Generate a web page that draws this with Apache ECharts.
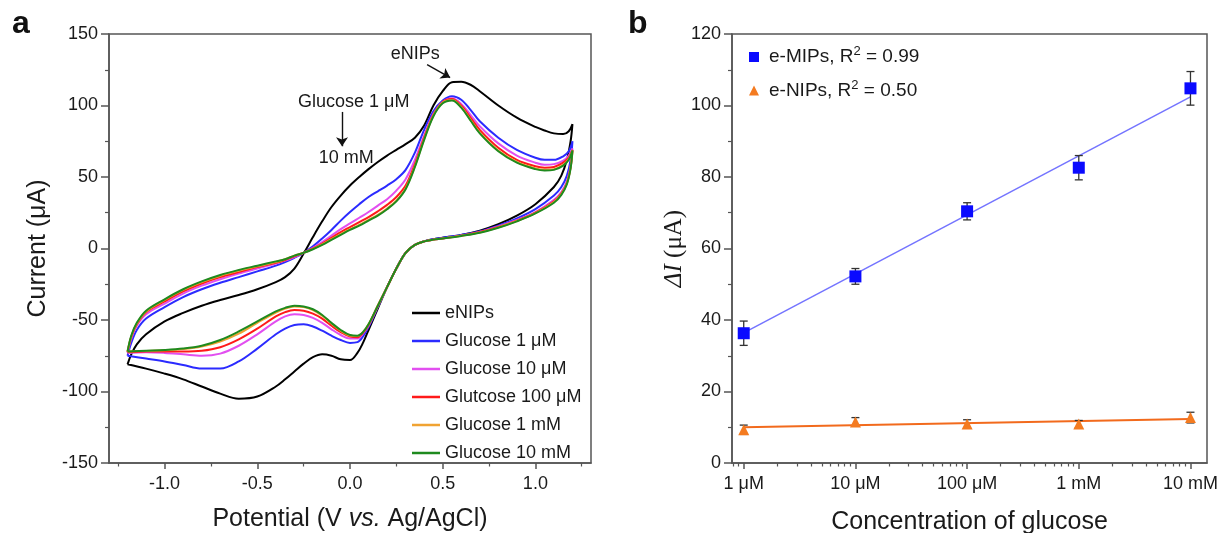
<!DOCTYPE html>
<html>
<head>
<meta charset="utf-8">
<script src="https://cdn.jsdelivr.net/npm/echarts@6/dist/echarts.min.js"></script>
<style>
html,body{margin:0;padding:0;background:#fff;}
#chart{width:1224px;height:533px;}
</style>
</head>
<body>
<div id="chart"></div>
<script>
// ---------- Panel a: cyclic voltammograms ----------
const potFwd = [-1.2,-1.18,-1.15,-1.1,-1.0,-0.9,-0.8,-0.7,-0.6,-0.5,-0.4,-0.35,-0.3,-0.25,-0.2,-0.15,-0.1,-0.05,0.0,0.05,0.1,0.15,0.2,0.25,0.3,0.35,0.4,0.45,0.5,0.55,0.6,0.65,0.7,0.8,0.9,1.0,1.05,1.1,1.15,1.18,1.2];
const potRev = [1.2,1.19,1.17,1.14,1.1,1.0,0.9,0.8,0.7,0.6,0.5,0.45,0.4,0.35,0.3,0.25,0.2,0.15,0.1,0.07,0.04,0.0,-0.05,-0.1,-0.15,-0.2,-0.25,-0.3,-0.35,-0.4,-0.5,-0.6,-0.7,-0.8,-0.9,-1.0,-1.1,-1.2];

const eNIPsFwd = [-81,-74,-67,-60,-51,-45,-40,-36,-32.5,-28.5,-23.5,-20,-14,-3.5,8,19,29,37,44,50,55.5,60.5,65,69,73,77.5,86,100,110,116.3,116.6,114.5,110,100,91.5,85,82.5,80.5,80,82,87];
const eNIPsRev = [87,75,62,51,43,31,23,17,12.5,9.5,7.5,6.5,5,2.5,-3,-14,-27,-42,-57,-66,-73,-78,-77.5,-75,-74,-76,-80.5,-86,-91.5,-96.5,-103.5,-105,-101.5,-96.5,-91.5,-87.5,-84,-81];

const g1uMFwd = [-75,-66,-57,-49,-41,-34,-28.5,-24,-20,-16,-12,-9.5,-6.5,-3,1.5,7,13,19.5,25.5,31,36,40,44,48.5,55,67,83,96,103.5,106.5,104,97,89,77.5,69,63.5,62,62,64.5,68,75];
const g1uMRev = [75,62,51,43,37,27.5,21,16,12,9.5,7.5,6.5,5,2.5,-3,-14,-27,-41,-55,-61.5,-65.5,-66,-64,-61,-57.5,-54.5,-53,-53.5,-56,-60,-70,-79,-84,-84,-81.5,-79,-77,-75];

const g10uMFwd = [-73,-63,-54,-46,-38.5,-31.5,-26,-21.5,-17.5,-14,-10.5,-8.5,-6,-3,0.5,4.5,9,13.5,17.5,21.5,25.5,30,34.5,40.5,48.5,62,79,94,102.5,105,101,93.5,85.5,73.5,65,60,58.5,59,61.5,65,70];
const g10uMRev = [70,58,47,39.5,34,25.5,20,15.5,11.5,9,7,6.2,5,2.5,-3,-14,-27,-40.5,-54,-59.5,-63,-63,-60.5,-56.5,-52,-48.5,-46.5,-46,-47.5,-51,-60,-68,-73.5,-75,-74,-73,-72.5,-73];

const g100uMFwd = [-72.5,-62,-53,-44.5,-37,-30,-24.5,-20,-16.5,-13,-10,-8,-5.5,-3,0,3.5,7.5,11.5,15,18.5,22,26,30.5,36,44,59,77.5,93.5,102.5,104.5,100,91.5,83,70.5,62,57.5,56.5,57,60,63.5,69];
const g100uMRev = [69,57,46,38.5,33,25,19.5,15,11.5,9,7,6.2,5,2.5,-3,-14,-27,-40,-53.5,-59,-62,-61.5,-58.5,-54,-49,-45.5,-43.5,-43,-44.5,-47.5,-56,-63.5,-69,-71.5,-72,-72,-72,-72.5];

const g1mMFwd = [-72,-61.5,-52.5,-44,-36,-29,-23.5,-19,-15.5,-12.5,-9.5,-7.5,-5,-3,-0.3,2.8,6.5,10,13.5,16.5,20,23.5,28,33.5,42,57.5,76.5,93,102,103.8,99,90,81,68.5,60.5,56,55,55.5,58.5,62.5,68.5];
const g1mMRev = [68.5,56.5,45.5,38,32.5,24.8,19.2,14.8,11.2,8.9,7,6.2,5,2.5,-3,-14,-27,-40,-53,-58.5,-61.2,-60.8,-57.5,-52.5,-47,-43,-41,-40.5,-42,-44.8,-52,-59.5,-65,-68.5,-70.3,-71.2,-71.6,-72];

const g10mMFwd = [-72,-61,-52,-43.5,-35.5,-28.5,-23,-18.5,-15,-12,-9,-7.5,-5,-3,-0.5,2.5,6,9.5,13,16,19.5,23,27.5,33,41.5,57,76,92.5,101.5,103.5,98.5,89.5,80.5,68,60,55.5,54.5,55,58,62,68.5];
const g10mMRev = [68.5,56,45,37.5,32,24.5,19,14.5,11,8.8,7,6.2,5,2.5,-3,-14,-27,-40,-53,-58.5,-61,-60.5,-57,-52,-46.5,-42.5,-40.5,-40,-41.5,-44,-51,-58,-64,-68,-70,-71,-71.5,-72];

const cvNames = ['eNIPs','Glucose 1 μM','Glucose 10 μM','Glutcose 100 μM','Glucose 1 mM','Glucose 10 mM'];
const cvColors = ['#000000','#2b2bff','#e24ff0','#ff1a1a','#f0a332','#1e8a1e'];
const cvFwd = [eNIPsFwd,g1uMFwd,g10uMFwd,g100uMFwd,g1mMFwd,g10mMFwd];
const cvRev = [eNIPsRev,g1uMRev,g10uMRev,g100uMRev,g1mMRev,g10mMRev];

const potTicks = [-1.0,-0.5,0.0,0.5,1.0];
const potMinorTicks = [-1.25,-0.75,-0.25,0.25,0.75,1.25];

// ---------- Panel b: calibration ----------
const concExp = [0,1,2,3,4];           // log10 of concentration in μM
const concLabels = ['1 μM','10 μM','100 μM','1 mM','10 mM'];
const mipValues = [36.3,52.2,70.4,82.6,104.8];
const mipErr = [3.4,2.2,2.4,3.4,4.7];
const nipValues = [9.3,11.5,10.9,10.9,12.7];
const nipErr = [1.3,1.2,1.2,1.0,1.5];
const mipFitEnds = [36.4,102.4];
const nipFitEnds = [10.0,12.3];

const FONT = 'Liberation Sans, Arial, sans-serif';
const SERIF = 'Liberation Serif, Times New Roman, serif';
const AX = '#555';
const TXT = '#1a1a1a';

function buildCurve(i){
  const d = [];
  potFwd.forEach((v,k)=>d.push([v,cvFwd[i][k]]));
  potRev.forEach((v,k)=>d.push([v,cvRev[i][k]]));
  return d;
}

const minorConc = [];
for (let n=-1;n<=3;n++){ for (let k=2;k<=9;k++){ const e = n+Math.log10(k); if (e>-0.105 && e<4.148) minorConc.push(e);} }

function errSeries(vals, errs){
  return concExp.map((x,i)=>[x, vals[i]-errs[i], vals[i]+errs[i]]);
}
function renderErr(params, api){
  const x = api.value(0);
  const p1 = api.coord([x, api.value(1)]);
  const p2 = api.coord([x, api.value(2)]);
  const w = 4;
  const st = {stroke:'#333', lineWidth:1.3};
  return {type:'group', children:[
    {type:'line', shape:{x1:p1[0],y1:p1[1],x2:p2[0],y2:p2[1]}, style:st},
    {type:'line', shape:{x1:p1[0]-w,y1:p1[1],x2:p1[0]+w,y2:p1[1]}, style:st},
    {type:'line', shape:{x1:p2[0]-w,y1:p2[1],x2:p2[0]+w,y2:p2[1]}, style:st}
  ]};
}

const axisLineStyle = {show:true, onZero:false, lineStyle:{color:AX, width:1.5}};
const labelStyle = {color:TXT, fontSize:18, fontFamily:FONT};

const series = [];
cvNames.forEach((nm,i)=>{
  series.push({
    name:nm, type:'line', xAxisIndex:0, yAxisIndex:0,
    data:buildCurve(i), showSymbol:false, symbol:'none', smooth:0.35,
    lineStyle:{color:cvColors[i], width:2}, itemStyle:{color:cvColors[i]},
    z: 2+i
  });
});
// annotations on panel a
series[0].markLine = {
  silent:true, symbol:['none','arrow'], symbolSize:9, animation:false,
  label:{show:false},
  lineStyle:{color:'#111', width:1.4, type:'solid'},
  data:[
    [{coord:[0.416,128.6]},{coord:[0.54,119.5]}],
    [{coord:[-0.043,95.5]},{coord:[-0.043,71.5]}]
  ]
};
series[0].markPoint = {
  silent:true, symbol:'circle', symbolSize:0, animation:false,
  label:{show:true, position:'inside', color:TXT, fontSize:18, fontFamily:FONT},
  data:[
    {coord:[0.352,135.7], value:'eNIPs', label:{formatter:'eNIPs'}},
    {coord:[0.02,102.4], value:'g', label:{formatter:'Glucose 1 μM'}},
    {coord:[-0.02,63.2], value:'m', label:{formatter:'10 mM'}}
  ]
};

// panel b
series.push({name:'MIP fit', type:'line', xAxisIndex:2, yAxisIndex:1, symbol:'none',
  data:[[concExp[0],mipFitEnds[0]],[concExp[concExp.length-1],mipFitEnds[1]]],
  lineStyle:{color:'#7474ff', width:1.5}, z:2});
series.push({name:'NIP fit', type:'line', xAxisIndex:2, yAxisIndex:1, symbol:'none',
  data:[[concExp[0],nipFitEnds[0]],[concExp[concExp.length-1],nipFitEnds[1]]],
  lineStyle:{color:'#f26a1c', width:2}, z:2});
series.push({name:'MIP err', type:'custom', xAxisIndex:2, yAxisIndex:1, renderItem:renderErr,
  encode:{x:0,y:[1,2]}, data:errSeries(mipValues,mipErr), z:3});
series.push({name:'NIP err', type:'custom', xAxisIndex:2, yAxisIndex:1, renderItem:renderErr,
  encode:{x:0,y:[1,2]}, data:errSeries(nipValues,nipErr), z:3});
series.push({name:'e-MIPs', type:'scatter', xAxisIndex:2, yAxisIndex:1, symbol:'rect', symbolSize:12,
  data:concExp.map((x,i)=>[x,mipValues[i]]), itemStyle:{color:'#0a0aff', opacity:1}, z:4});
series.push({name:'e-NIPs', type:'scatter', xAxisIndex:2, yAxisIndex:1, symbol:'triangle', symbolSize:11,
  data:concExp.map((x,i)=>[x,nipValues[i]]), itemStyle:{color:'#f47b20', opacity:1}, z:4});

const option = {
  animation:false,
  backgroundColor:'#ffffff',
  textStyle:{fontFamily:FONT},
  graphic:[
    {type:'text', left:12, top:8, style:{text:'a', font:'bold 32px Liberation Sans, Arial, sans-serif', fill:'#111'}},
    {type:'text', left:628, top:8, style:{text:'b', font:'bold 32px Liberation Sans, Arial, sans-serif', fill:'#111'}}
  ],
  grid:[
    {left:109, right:633, top:34, bottom:70, show:true, borderColor:AX, borderWidth:1.5, containLabel:false, outerBoundsMode:'none'},
    {left:732, right:17, top:34, bottom:70, show:true, borderColor:AX, borderWidth:1.5, containLabel:false, outerBoundsMode:'none'}
  ],
  legend:[
    {
      data:cvNames, orient:'vertical', left:407, top:298, icon:'rect', itemWidth:28, itemHeight:2.5,
      itemGap:8, textStyle:{color:TXT, fontSize:18, lineHeight:20, fontFamily:FONT}, selectedMode:false
    },
    {
      data:[{name:'e-MIPs', icon:'rect'},{name:'e-NIPs', icon:'triangle'}],
      orient:'vertical', left:744, top:40, itemWidth:10, itemHeight:10, itemGap:12, selectedMode:false,
      formatter:function(n){ return n==='e-MIPs' ? '{t|e-MIPs, R}{s|2}{t| = 0.99}' : '{t|e-NIPs, R}{s|2}{t| = 0.50}'; },
      textStyle:{color:TXT, fontFamily:FONT, rich:{
        t:{fontSize:19, fontFamily:FONT, color:TXT, lineHeight:24},
        s:{fontSize:13, fontFamily:FONT, color:TXT, verticalAlign:'top', lineHeight:16}
      }, padding:[0,0,0,5]}
    }
  ],
  xAxis:[
    {gridIndex:0, type:'value', min:-1.3, max:1.3, position:'bottom',
      axisLine:axisLineStyle,
      axisTick:{show:true, inside:false, length:6, lineStyle:{color:AX, width:1.5}, customValues:potTicks},
      axisLabel:Object.assign({customValues:potTicks, margin:12, formatter:v=>Number(v).toFixed(1)}, labelStyle),
      splitLine:{show:false},
      name:'Potential (V {it|vs.} Ag/AgCl)', nameLocation:'middle', nameGap:44,
      nameTextStyle:{fontSize:25, color:TXT, fontFamily:FONT,
        rich:{it:{fontSize:25, fontStyle:'italic', fontFamily:FONT, color:TXT}}}
    },
    {gridIndex:0, type:'value', min:-1.3, max:1.3, position:'bottom',
      axisLine:{show:false, onZero:false},
      axisTick:{show:true, length:3.5, lineStyle:{color:AX, width:1.2}, customValues:potMinorTicks},
      axisLabel:{show:false}, splitLine:{show:false}
    },
    {gridIndex:1, type:'value', min:-0.105, max:4.148, position:'bottom',
      axisLine:axisLineStyle,
      axisTick:{show:true, length:6, lineStyle:{color:AX, width:1.5}, customValues:concExp},
      axisLabel:Object.assign({customValues:concExp, margin:12, formatter:v=>concLabels[Math.round(v)]}, labelStyle),
      splitLine:{show:false},
      name:'Concentration of glucose', nameLocation:'middle', nameGap:47,
      nameTextStyle:{fontSize:25, color:TXT, fontFamily:FONT}
    },
    {gridIndex:1, type:'value', min:-0.105, max:4.148, position:'bottom',
      axisLine:{show:false, onZero:false},
      axisTick:{show:true, length:3.5, lineStyle:{color:AX, width:1.2}, customValues:minorConc},
      axisLabel:{show:false}, splitLine:{show:false}
    }
  ],
  yAxis:[
    {gridIndex:0, type:'value', min:-150, max:150, interval:50,
      axisLine:axisLineStyle,
      axisTick:{show:true, length:8, lineStyle:{color:AX, width:1.5}},
      minorTick:{show:true, splitNumber:2, length:4, lineStyle:{color:AX, width:1.2}},
      axisLabel:Object.assign({margin:11}, labelStyle),
      splitLine:{show:false}, minorSplitLine:{show:false},
      name:'Current (μA)', nameLocation:'middle', nameGap:58, nameRotate:90,
      nameTextStyle:{fontSize:25, color:TXT, fontFamily:FONT}
    },
    {gridIndex:1, type:'value', min:0, max:120, interval:20,
      axisLine:axisLineStyle,
      axisTick:{show:true, length:8, lineStyle:{color:AX, width:1.5}},
      minorTick:{show:true, splitNumber:2, length:4, lineStyle:{color:AX, width:1.2}},
      axisLabel:Object.assign({margin:11}, labelStyle),
      splitLine:{show:false}, minorSplitLine:{show:false},
      name:'{i|ΔI}{n| (μA)}', nameLocation:'middle', nameGap:44, nameRotate:90,
      nameTextStyle:{color:TXT, rich:{
        i:{fontSize:25, fontStyle:'italic', fontFamily:SERIF, color:TXT},
        n:{fontSize:25, fontFamily:SERIF, color:TXT}
      }}
    }
  ],
  series:series
};

const chart = echarts.init(document.getElementById('chart'), null, {renderer:'canvas'});
chart.setOption(option);
</script>
</body>
</html>
